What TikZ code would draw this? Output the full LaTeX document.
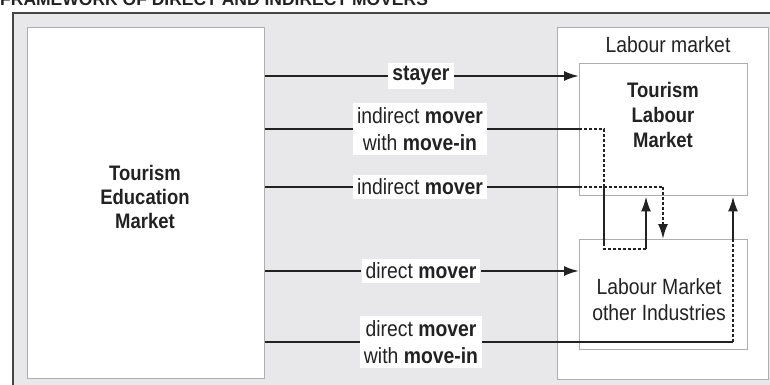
\documentclass[tikz,border=0pt]{standalone}
\usepackage{fontspec}
\setmainfont[FakeStretch=0.88]{Liberation Sans}
\newfontfamily\titlefont{Liberation Sans}
\usetikzlibrary{arrows.meta}
\definecolor{bg}{HTML}{E8E8EA}
\definecolor{ink}{HTML}{222222}
\definecolor{boxline}{HTML}{AEAEAE}
\definecolor{frameline}{HTML}{454545}
\tikzset{
  panel/.style={draw=boxline, line width=1.4pt, fill=white, inner sep=0pt, anchor=north west},
  plain/.style={text=ink, align=center, inner sep=0pt},
  lbl/.style={fill=white, text=ink, align=center, inner sep=4pt, font=\fontsize{22}{27}\selectfont},
  conn/.style={draw=ink, line width=2.1pt},
  dotconn/.style={draw=ink, line width=2.1pt, dash pattern=on 3pt off 2pt},
  tip/.style={-{Latex[length=15pt,width=10pt]}}
}
\begin{document}
\begin{tikzpicture}[x=1pt,y=-1pt]
\useasboundingbox (0,0) rectangle (770,384);
\clip (0,0) rectangle (770,384);
% background frame
\fill[bg] (13,13) rectangle (780,395);
\draw[frameline, line width=2pt] (13,395) -- (13,13) -- (780,13);
% title (cut off at top in the reference)
\node[anchor=base west, inner sep=0pt, text=ink, font=\titlefont\bfseries\fontsize{17.5}{20}\selectfont] (title) at (0,5) {FRAMEWORK OF DIRECT AND INDIRECT MOVERS};
% boxes
\node[panel, minimum width=237pt, minimum height=351pt] (edu) at (27,27) {};
\node[plain, font=\bfseries\fontsize{21}{24}\selectfont] (edutxt) at (145,197) {Tourism\\Education\\Market};
\node[panel, minimum width=211pt, minimum height=352pt] (lm) at (557,27) {};
\node[plain, font=\fontsize{22}{24}\selectfont] (lmtxt) at (668,45) {Labour market};
\node[panel, minimum width=168pt, minimum height=132pt] (tlm) at (579,63) {};
\node[plain, font=\bfseries\fontsize{21}{25}\selectfont] (tlmtxt) at (663,115) {Tourism\\Labour\\Market};
\node[panel, minimum width=168pt, minimum height=110pt] (oth) at (579,239) {};
\node[plain, font=\fontsize{22}{26}\selectfont] (othtxt) at (659,300) {Labour Market\\other Industries};
% labels
\node[lbl] (st) at (421,76) {\textbf{stayer}};
\node[lbl] (imi) at (420,129) {indirect \textbf{mover}\\with \textbf{move-in}};
\node[lbl] (im) at (420,187) {indirect \textbf{mover}};
\node[lbl] (dm) at (421,271) {direct \textbf{mover}};
\node[lbl] (dmi) at (421,342) {direct \textbf{mover}\\with \textbf{move-in}};
% turning points
\coordinate (a1) at (604,129);
\coordinate (a2) at (604,187);
\coordinate (a3) at (604,243);
\coordinate (a4) at (604,249);
\coordinate (a5) at (646,249);
\coordinate (b1) at (663,187);
\coordinate (c1) at (733,342);
% stayer
\draw[conn] (edu.east |- st) -- (st.west);
\draw[conn, tip] (st.east) -- (tlm.west |- st);
% indirect mover with move-in
\draw[conn] (edu.east |- imi) -- (imi.west);
\draw[conn] (imi.east) -- (tlm.west |- imi);
\draw[dotconn] (tlm.west |- imi) -- (a1) -- (a2);
\draw[conn] (a2) -- (a3);
\draw[dotconn] (a3) -- (a4) -- (a5);
\draw[conn, tip] (a5) -- (a5 |- tlm.south);
% indirect mover
\draw[conn] (edu.east |- im) -- (im.west);
\draw[conn] (im.east) -- (tlm.west |- im);
\draw[dotconn] (tlm.west |- im) -- (b1);
\draw[dotconn, tip] (b1) -- (b1 |- oth.north);
% direct mover
\draw[conn] (edu.east |- dm) -- (dm.west);
\draw[conn, tip] (dm.east) -- (oth.west |- dm);
% direct mover with move-in
\draw[conn] (edu.east |- dmi) -- (dmi.west);
\draw[conn] (dmi.east) -- (c1);
\draw[dotconn] (c1) -- (c1 |- oth.north);
\draw[conn, tip] (c1 |- oth.north) -- (c1 |- tlm.south);
\end{tikzpicture}
\end{document}
